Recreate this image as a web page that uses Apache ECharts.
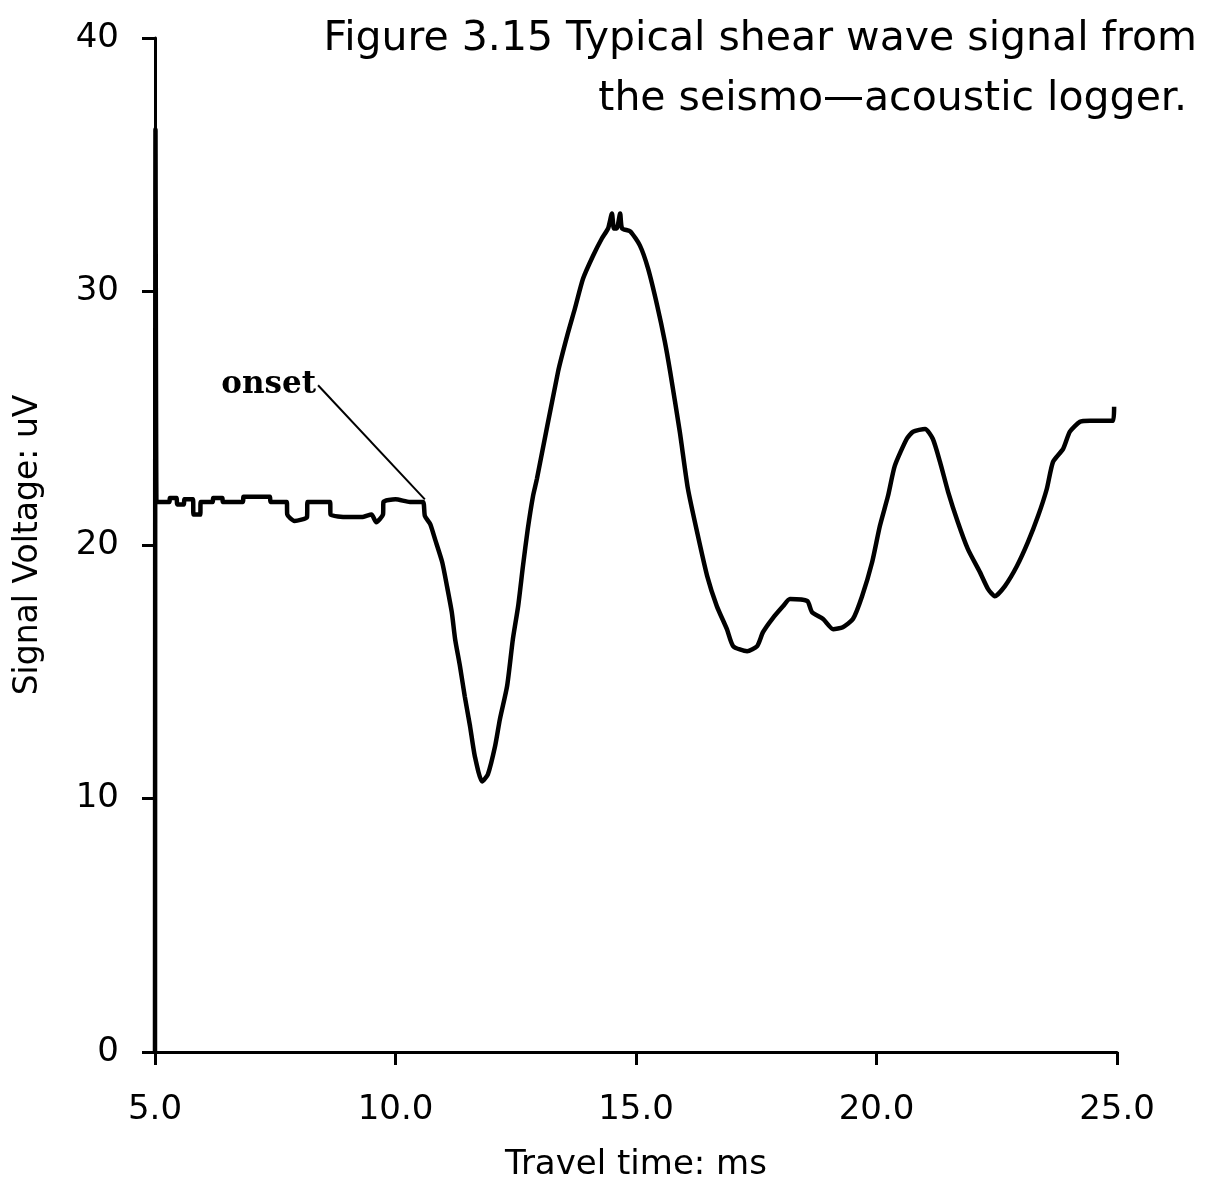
<!DOCTYPE html>
<html>
<head>
<meta charset="utf-8">
<script src="https://cdn.jsdelivr.net/npm/echarts@6/dist/echarts.min.js"></script>
<style>html,body{margin:0;padding:0;background:#fff}#c{width:1222px;height:1181px}</style>
</head>
<body>
<div id="c"></div>
<script>
// Travel time (ms) and signal voltage (uV)
const timeMs = [5.0,5.01,5.03,5.05,5.3,5.31,5.45,5.46,5.6,5.61,5.79,5.8,5.94,5.95,6.2,6.21,6.4,6.41,6.83,6.84,7.39,7.4,7.74,7.75,7.9,8.16,8.17,8.64,8.65,9.0,9.3,9.5,9.6,9.74,9.75,10.0,10.3,10.57,
10.61,10.72,10.82,10.97,11.07,11.17,11.24,11.34,11.44,11.55,11.65,11.8,11.92,12.07,12.17,12.32,12.44,12.55,12.65,12.75,12.86,12.94,13.38,13.57,13.73,13.9,14.11,14.29,14.42,14.5,14.54,14.6,14.67,14.71,14.88,15.08,15.25,15.44,15.6,15.71,15.91,16.08,16.27,16.48,16.68,16.89,17.02,17.31,17.52,17.64,17.83,18.06,18.2,18.56,18.66,18.89,19.1,19.3,19.51,19.7,19.91,20.07,20.24,20.38,20.63,20.76,21.01,21.17,21.32,21.49,21.69,21.9,22.15,22.32,22.46,22.67,22.92,23.15,23.36,23.54,23.67,23.88,24.02,24.23,24.44,24.92,24.94];
const voltageUV = [0,36.4,21.7,21.7,21.7,21.85,21.85,21.6,21.6,21.8,21.8,21.2,21.2,21.7,21.7,21.85,21.85,21.7,21.7,21.9,21.9,21.7,21.7,21.2,20.95,21.1,21.7,21.7,21.2,21.1,21.1,21.2,20.9,21.2,21.7,21.8,21.7,21.7,
21.15,20.83,20.24,19.33,18.38,17.35,16.28,15.22,14.03,12.85,11.66,10.67,10.95,12.06,13.12,14.43,16.28,17.59,19.17,20.63,21.94,22.61,26.84,28.26,29.33,30.51,31.42,32.09,32.49,33.08,32.49,32.49,33.08,32.49,32.37,31.82,30.91,29.45,28.02,26.84,24.47,22.21,20.51,18.77,17.59,16.68,16.01,15.81,16.01,16.56,17.08,17.59,17.87,17.79,17.35,17.08,16.68,16.76,17.08,17.98,19.33,20.75,21.94,23.12,24.19,24.47,24.58,24.19,23.28,22.09,20.91,19.84,18.93,18.26,17.98,18.38,19.17,20.12,21.15,22.21,23.28,23.79,24.47,24.86,24.9,24.9,25.45];
const xTicks = [5, 10, 15, 20, 25];
const yTicks = [0, 10, 20, 30, 40];
const onsetPoint = [10.61, 21.8];
const onsetLabelPoint = [8.39, 26.3];
const titleLines = ['Figure 3.15 Typical shear wave signal from', 'the seismo\u2014acoustic logger.'];

const series = timeMs.map((t, i) => [t, voltageUV[i]]);
const font = '"DejaVu Sans", sans-serif';
const titleStyle = {fontFamily: font, fontWeight: 'normal', fontSize: 41, color: '#000'};
const chart = echarts.init(document.getElementById('c'), null, {renderer: 'canvas'});
chart.setOption({
  backgroundColor: '#fff',
  animation: false,
  title: [
    {text: titleLines[0], right: 20, top: 14, textStyle: titleStyle},
    {text: titleLines[1], right: 30, top: 74, textStyle: titleStyle}
  ],
  grid: {left: 155, right: 105, top: 38, bottom: 129, containLabel: false, outerBoundsMode: 'none'},
  xAxis: {
    type: 'value', min: 5, max: 25, interval: 5,
    name: 'Travel time: ms', nameLocation: 'middle', nameGap: 96,
    nameTextStyle: {fontFamily: font, fontSize: 34, color: '#000'},
    axisLine: {onZero: false, lineStyle: {color: '#000', width: 3}},
    axisTick: {show: true, inside: false, length: 13, lineStyle: {color: '#000', width: 3}},
    axisLabel: {fontFamily: font, fontSize: 34, color: '#000', margin: 41,
      formatter: v => xTicks.includes(v) ? v.toFixed(1) : ''},
    splitLine: {show: false}
  },
  yAxis: {
    type: 'value', min: 0, max: 40, interval: 10,
    name: 'Signal Voltage: uV', nameLocation: 'middle', nameGap: 110,
    nameTextStyle: {fontFamily: font, fontSize: 33, color: '#000'},
    axisLine: {onZero: false, lineStyle: {color: '#000', width: 3}},
    axisTick: {show: true, inside: false, length: 13, lineStyle: {color: '#000', width: 3}},
    axisLabel: {fontFamily: font, fontSize: 34, color: '#000', margin: 36,
      formatter: v => yTicks.includes(v) ? String(v) : ''},
    splitLine: {show: false}
  },
  series: [{
    type: 'line',
    data: series,
    showSymbol: false,
    smooth: 0.2,
    lineStyle: {color: '#000', width: 4.5},
    markLine: {
      silent: true, symbol: ['none', 'none'],
      lineStyle: {color: '#000', width: 2, type: 'solid'},
      label: {show: false},
      data: [[{coord: onsetPoint}, {coord: onsetLabelPoint}]]
    },
    markPoint: {
      symbol: 'circle', symbolSize: 0,
      data: [{coord: onsetLabelPoint, value: 'onset'}],
      label: {show: true, position: 'left', distance: 2, formatter: 'onset',
        fontFamily: '"DejaVu Serif", serif', fontWeight: 'bold', fontSize: 31, color: '#000'}
    }
  }]
});
</script>
</body>
</html>
